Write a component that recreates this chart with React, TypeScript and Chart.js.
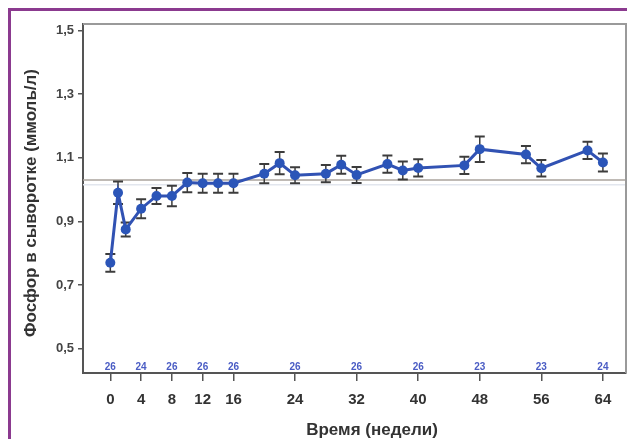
import { useEffect, useRef } from "react";
import { Chart, registerables } from "chart.js";

Chart.register(...registerables);

const weeks = [0, 1, 2, 4, 6, 8, 10, 12, 14, 16, 20, 22, 24, 28, 30, 32, 36, 38, 40, 46, 48, 54, 56, 62, 64];
const means = [0.77, 0.99, 0.875, 0.94, 0.98, 0.98, 1.022, 1.02, 1.02, 1.02, 1.05, 1.083, 1.045, 1.05, 1.078, 1.046, 1.08, 1.06, 1.068, 1.076, 1.127, 1.11, 1.067, 1.123, 1.085];
const errors = [0.028, 0.035, 0.022, 0.03, 0.025, 0.032, 0.03, 0.03, 0.03, 0.03, 0.03, 0.035, 0.025, 0.027, 0.028, 0.025, 0.027, 0.028, 0.027, 0.027, 0.04, 0.027, 0.026, 0.027, 0.028];
const xTickValues = [0, 4, 8, 12, 16, 24, 32, 40, 48, 56, 64];
const yTickValues = [0.5, 0.7, 0.9, 1.1, 1.3, 1.5];
const nWeeks = [0, 4, 8, 12, 16, 24, 32, 40, 48, 56, 64];
const nCounts = [26, 24, 26, 26, 26, 26, 26, 26, 23, 23, 24];
const referenceLevel = 1.03;
const referenceLevelFaint = 1.015;
const xTitle = "Время (недели)";
const yTitle = "Фосфор в сыворотке (ммоль/л)";

const FONT = "'Liberation Sans', Arial, sans-serif";

export default function App() {
  const ref = useRef<HTMLCanvasElement | null>(null);

  useEffect(() => {
    if (!ref.current) return;

    const decor = {
      id: "decor",
      beforeDatasetsDraw(chart: any) {
        const { ctx, chartArea } = chart;
        const xs = chart.scales.x;
        const ys = chart.scales.y;
        ctx.save();
        ctx.strokeStyle = "#e2e6ee";
        ctx.lineWidth = 1.5;
        let yy = ys.getPixelForValue(referenceLevelFaint);
        ctx.beginPath();
        ctx.moveTo(chartArea.left, yy);
        ctx.lineTo(chartArea.right, yy);
        ctx.stroke();
        ctx.strokeStyle = "#aaa39c";
        ctx.lineWidth = 1.5;
        yy = ys.getPixelForValue(referenceLevel);
        ctx.beginPath();
        ctx.moveTo(chartArea.left, yy);
        ctx.lineTo(chartArea.right, yy);
        ctx.stroke();
        ctx.strokeStyle = "#3c3c3c";
        for (let i = 0; i < weeks.length; i++) {
          const px = xs.getPixelForValue(weeks[i]);
          const top = ys.getPixelForValue(means[i] + errors[i]);
          const bot = ys.getPixelForValue(means[i] - errors[i]);
          ctx.lineWidth = 1.5;
          ctx.beginPath();
          ctx.moveTo(px, top);
          ctx.lineTo(px, bot);
          ctx.stroke();
          ctx.lineWidth = 2;
          ctx.beginPath();
          ctx.moveTo(px - 5, top);
          ctx.lineTo(px + 5, top);
          ctx.moveTo(px - 5, bot);
          ctx.lineTo(px + 5, bot);
          ctx.stroke();
        }
        ctx.restore();
      },
      afterDraw(chart: any) {
        const { ctx, chartArea } = chart;
        const xs = chart.scales.x;
        ctx.save();
        ctx.strokeStyle = "#9a9a9a";
        ctx.lineWidth = 2;
        ctx.beginPath();
        ctx.moveTo(chartArea.left, chartArea.top);
        ctx.lineTo(chartArea.right, chartArea.top);
        ctx.lineTo(chartArea.right, chartArea.bottom);
        ctx.stroke();
        ctx.fillStyle = "#4a5cc4";
        ctx.font = `bold 10px ${FONT}`;
        ctx.textAlign = "center";
        ctx.textBaseline = "middle";
        for (let i = 0; i < nWeeks.length; i++) {
          ctx.fillText(String(nCounts[i]), xs.getPixelForValue(nWeeks[i]), chartArea.bottom - 6);
        }
        ctx.fillStyle = "#333333";
        ctx.font = `bold 17px ${FONT}`;
        ctx.fillText(xTitle, 372, 430);
        ctx.translate(32, 203);
        ctx.rotate(-Math.PI / 2);
        ctx.font = `bold 16px ${FONT}`;
        const w = ctx.measureText(yTitle).width;
        ctx.scale(268 / w, 1);
        ctx.fillText(yTitle, 0, 0);
        ctx.restore();
      },
    };

    const chart = new Chart(ref.current, {
      type: "line",
      data: {
        datasets: [
          {
            data: weeks.map((w, i) => ({ x: w, y: means[i] })),
            borderColor: "#3152b3",
            backgroundColor: "#2b55b8",
            borderWidth: 3,
            pointRadius: 5,
            pointBorderWidth: 0,
            pointBackgroundColor: "#2b55b8",
            tension: 0,
          },
        ],
      },
      options: {
        animation: false,
        responsive: false,
        layout: { padding: { left: 0, right: -2, top: 24, bottom: 0 } },
        plugins: { legend: { display: false }, tooltip: { enabled: false }, title: { display: false } },
        scales: {
          x: {
            type: "linear",
            min: -3.55,
            max: 67,
            afterBuildTicks: (s: any) => {
              s.ticks = xTickValues.map((v) => ({ value: v }));
            },
            afterFit: (s: any) => {
              s.height = 66;
            },
            grid: { display: true, drawOnChartArea: false, drawTicks: true, tickLength: 8, color: "#555", lineWidth: 1.5 },
            border: { display: true, color: "#555", width: 2 },
            ticks: {
              color: "#333",
              font: { family: FONT, size: 15, weight: "bold" },
              padding: 10,
              maxRotation: 0,
              autoSkip: false,
              callback: (v: any) => String(v),
            },
          },
          y: {
            type: "linear",
            min: 0.424,
            max: 1.52,
            afterBuildTicks: (s: any) => {
              s.ticks = yTickValues.map((v) => ({ value: v }));
            },
            afterFit: (s: any) => {
              s.width = 83;
            },
            grid: { display: true, drawOnChartArea: false, drawTicks: true, tickLength: 5, color: "#555", lineWidth: 1.5 },
            border: { display: true, color: "#555", width: 2 },
            ticks: {
              color: "#444",
              font: { family: FONT, size: 13, weight: "bold" },
              padding: 4,
              autoSkip: false,
              callback: (v: any) => Number(v).toFixed(1).replace(".", ","),
            },
          },
        },
      },
      plugins: [decor],
    });

    return () => chart.destroy();
  }, []);

  return (
    <div style={{ position: "fixed", left: 0, top: 0, width: 627, height: 439, overflow: "hidden", background: "#fff" }}>
      <div
        style={{
          position: "absolute",
          left: 8,
          top: 8,
          width: 700,
          height: 520,
          border: "3px solid #8b3a8f",
          boxSizing: "border-box",
        }}
      />
      <canvas ref={ref} width={631} height={439} style={{ position: "absolute", left: 0, top: 0, width: 631, height: 439 }} />
    </div>
  );
}
